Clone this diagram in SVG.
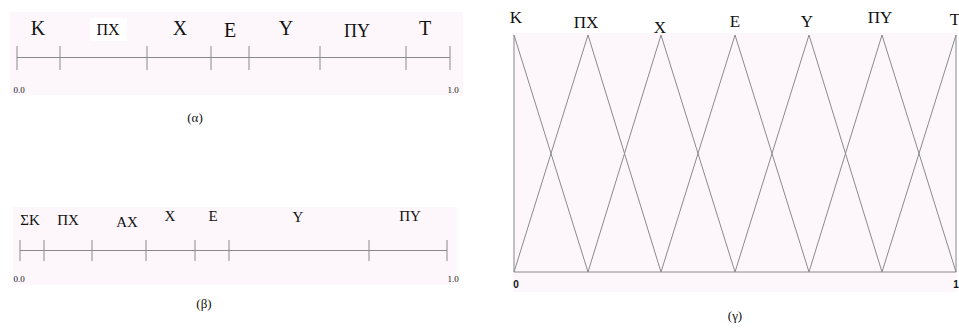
<svg xmlns="http://www.w3.org/2000/svg" width="959" height="329" viewBox="0 0 959 329">
<style>
.bg{fill:#fdf7fc}
.ln{stroke:#8a8a8a;stroke-width:1;fill:none}
text{font-family:"Liberation Serif","DejaVu Serif",serif;fill:#111;text-anchor:middle}
.s{font-size:9px}
.c{font-size:13px}
.n{font-family:"Liberation Sans","DejaVu Sans",sans-serif;font-weight:bold;font-size:10px}
</style>
<rect width="959" height="329" fill="#fff"/>
<g id="panel-a">
<rect class="bg" x="10" y="12" width="453" height="83"/>
<rect x="90" y="18" width="37" height="23" fill="#fff"/>
<line class="ln" x1="17" y1="57.5" x2="450" y2="57.5"/>
<path class="ln" d="M17,46V70M60,46V70M147,46V70M211,46V70M249,46V70M320,46V70M406,46V70M450,46V70"/>
<text x="38" y="35" font-size="20">K</text>
<text x="108" y="35" font-size="16">ΠΧ</text>
<text x="180" y="35" font-size="20">Χ</text>
<text x="230" y="37" font-size="20">Ε</text>
<text x="286" y="35" font-size="20">Υ</text>
<text x="357" y="37" font-size="18">ΠΥ</text>
<text x="425" y="35" font-size="20">Τ</text>
<text class="s" x="19" y="93">0.0</text>
<text class="s" x="453" y="93">1.0</text>
<text class="c" x="195" y="122">(α)</text>
</g>
<g id="panel-b">
<rect class="bg" x="13" y="207" width="444" height="78"/>
<line class="ln" x1="20" y1="250.5" x2="447" y2="250.5"/>
<path class="ln" d="M20,240V261M44,240V261M92,240V261M146,240V261M195,240V261M229,240V261M369,240V261M447,240V261"/>
<text x="30" y="225" font-size="15">ΣΚ</text>
<text x="68" y="225" font-size="15">ΠΧ</text>
<text x="127" y="227" font-size="15">ΑΧ</text>
<text x="170" y="221" font-size="15">Χ</text>
<text x="213" y="221" font-size="15">Ε</text>
<text x="298" y="222" font-size="15">Υ</text>
<text x="410" y="221" font-size="15">ΠΥ</text>
<text class="s" x="19" y="282">0.0</text>
<text class="s" x="453" y="282">1.0</text>
<text class="c" x="204" y="308">(β)</text>
</g>
<g id="panel-c">
<rect class="bg" x="513" y="33" width="444" height="259"/>
<path class="ln" d="M514,35V272H956M956,35V272"/>
<path class="ln" d="M514,35L588,272M514,272L588,35L661,272M588,272L661,35L735,272M661,272L735,35L809,272M735,272L809,35L882,272M809,272L882,35L956,272M882,272L956,35"/>
<text x="516" y="23" font-size="17">K</text>
<text x="586" y="28" font-size="17">ΠΧ</text>
<text x="660" y="33" font-size="17">Χ</text>
<text x="735" y="27" font-size="17">Ε</text>
<text x="807" y="27" font-size="17">Υ</text>
<text x="880" y="23" font-size="17">ΠΥ</text>
<text x="955" y="25" font-size="17">Τ</text>
<text class="n" x="516" y="288">0</text>
<text class="n" x="956" y="288">1</text>
<text class="c" x="735" y="320">(γ)</text>
</g>
</svg>
